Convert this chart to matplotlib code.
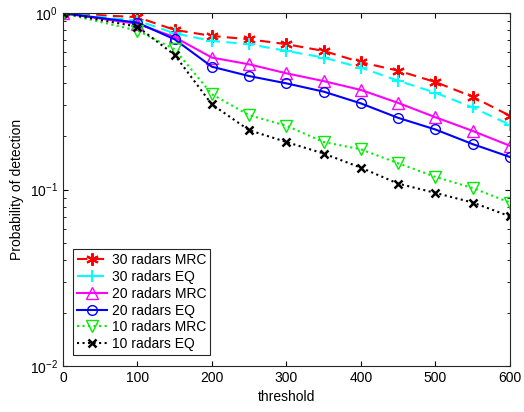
import numpy as np
import matplotlib
matplotlib.use('Agg')
import matplotlib.pyplot as plt

matplotlib.rcParams['font.family'] = 'Liberation Sans'
matplotlib.rcParams['mathtext.fontset'] = 'custom'
matplotlib.rcParams['mathtext.rm'] = 'Liberation Sans'

threshold = [0, 100, 150, 200, 250, 300, 350, 400, 450, 500, 550, 600]

mrc30 = [1.0, 0.949, 0.804, 0.743, 0.711, 0.667, 0.611, 0.527, 0.472, 0.407, 0.336, 0.262]
eq30 = [1.0, 0.908, 0.769, 0.696, 0.667, 0.611, 0.560, 0.491, 0.414, 0.354, 0.292, 0.233]
mrc20 = [1.0, 0.870, 0.731, 0.560, 0.513, 0.456, 0.412, 0.367, 0.310, 0.257, 0.215, 0.177]
eq20 = [1.0, 0.884, 0.711, 0.497, 0.440, 0.400, 0.359, 0.308, 0.255, 0.219, 0.181, 0.153]
mrc10 = [1.0, 0.797, 0.624, 0.347, 0.264, 0.230, 0.186, 0.169, 0.141, 0.118, 0.102, 0.0844]
eq10 = [1.0, 0.839, 0.580, 0.304, 0.217, 0.186, 0.160, 0.133, 0.108, 0.0957, 0.0844, 0.0705]

fig = plt.figure(figsize=(5.24, 4.12), dpi=100)
ax = fig.add_axes([0.120, 0.112, 0.853, 0.856])

dash = (0, (5, 3))
ax.semilogy(threshold, mrc30, ls=dash, color='red', marker=(6, 2, 0), ms=9, lw=1.5, mew=1.5, label='30 radars MRC')
ax.semilogy(threshold, eq30, ls=dash, color='cyan', marker='+', ms=9, lw=1.5, mew=1.5, label='30 radars EQ')
ax.semilogy(threshold, mrc20, '-', color='magenta', marker='^', ms=8, lw=1.5, mfc='none', label='20 radars MRC')
ax.semilogy(threshold, eq20, '-', color='blue', marker='o', ms=7, lw=1.5, mfc='none', label='20 radars EQ')
ax.semilogy(threshold, mrc10, ':', color='#00ee00', marker='v', ms=8, lw=1.5, mfc='none', label='10 radars MRC')
ax.semilogy(threshold, eq10, ':', color='black', marker='x', ms=6, lw=1.5, mew=1.8, label='10 radars EQ')

ax.set_xlim(0, 600)
ax.set_ylim(1e-2, 1)
ax.set_xticks([0, 100, 200, 300, 400, 500, 600])
ax.set_xlabel('threshold', fontsize=10)
ax.set_ylabel('Probability of detection', fontsize=10)
ax.tick_params(which='both', direction='in', top=True, right=True, labelsize=10)
for s in ax.spines.values():
    s.set_color('#262626')
    s.set_linewidth(0.8)

leg = ax.legend(loc='lower left', bbox_to_anchor=(0.022, 0.03), borderaxespad=0,
                fontsize=10, fancybox=False, edgecolor='#262626', framealpha=1,
                handlelength=2.2, labelspacing=0.2, borderpad=0.3, handletextpad=0.3)
leg.get_frame().set_linewidth(0.8)

plt.savefig('out.png', dpi=100)
